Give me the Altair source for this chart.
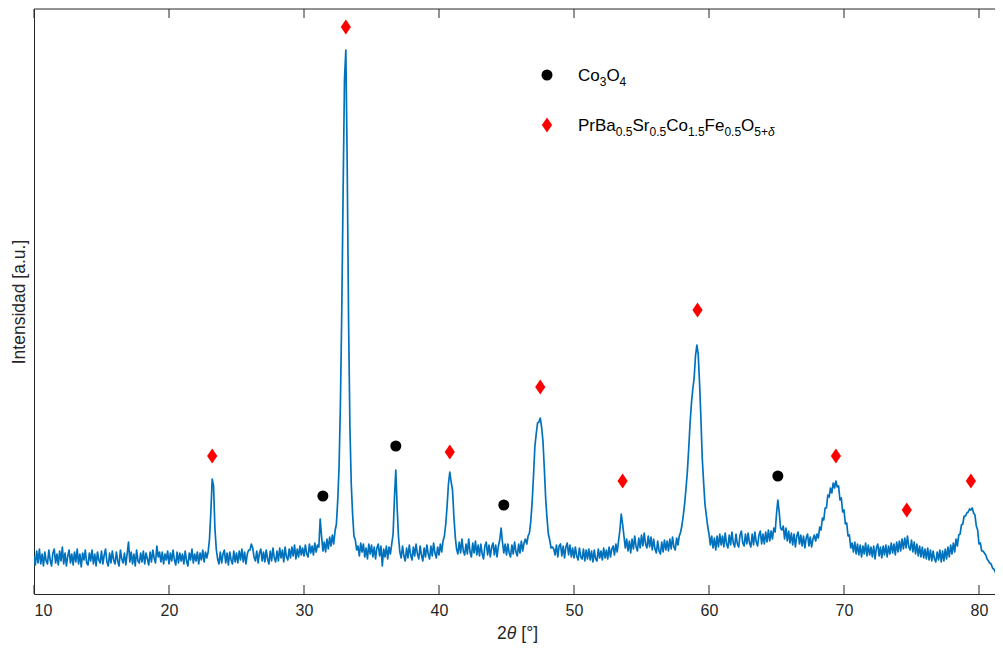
import altair as alt
import pandas as pd

# ---------------- data ----------------
# XRD scan: 2theta from 10.0 deg in steps of 0.1 deg, intensity in arbitrary units
scan_start = 10.0
scan_step = 0.1
intensity_rows = [
    [38, 29, 43, 31, 45, 30, 40, 28, 42, 33],   # 10
    [30, 44, 34, 28, 41, 45, 31, 40, 29, 43],   # 11
    [33, 47, 30, 41, 28, 38, 44, 31, 40, 29],   # 12
    [42, 32, 45, 30, 40, 27, 41, 34, 44, 31],   # 13
    [29, 41, 33, 44, 30, 40, 28, 42, 34, 31],   # 14
    [43, 30, 39, 45, 32, 28, 41, 31, 43, 34],   # 15
    [30, 42, 33, 28, 44, 35, 31, 41, 29, 40],   # 16
    [52, 32, 42, 30, 40, 28, 44, 33, 31, 41],   # 17
    [32, 43, 30, 41, 35, 29, 42, 32, 44, 36],   # 18
    [31, 48, 37, 42, 32, 42, 30, 40, 34, 43],   # 19
    [30, 41, 33, 44, 34, 29, 42, 31, 41, 33],   # 20
    [40, 30, 43, 33, 28, 41, 34, 45, 31, 40],   # 21
    [33, 42, 30, 41, 34, 44, 32, 42, 36, 42],   # 22
    [55, 82, 115, 108, 66, 45, 35, 30, 42, 31],  # 23
    [40, 44, 31, 41, 29, 42, 34, 30, 43, 32],   # 24
    [41, 31, 43, 34, 45, 32, 42, 30, 40, 44],   # 25
    [44, 50, 46, 37, 33, 43, 31, 41, 45, 33],   # 26
    [42, 32, 44, 35, 30, 43, 33, 46, 36, 32],   # 27
    [43, 33, 46, 36, 44, 32, 47, 37, 34, 45],   # 28
    [36, 47, 38, 49, 35, 45, 37, 48, 39, 46],   # 29
    [38, 49, 40, 37, 50, 41, 48, 39, 51, 42],   # 30
    [49, 47, 75, 58, 43, 52, 42, 55, 45, 57],   # 31
    [48, 59, 50, 63, 70, 94, 128, 192, 285, 405],  # 32
    [515, 544, 430, 275, 168, 110, 80, 58, 54, 44],  # 33
    [48, 38, 51, 42, 50, 37, 46, 35, 50, 40],   # 34
    [49, 37, 47, 35, 46, 50, 38, 48, 28, 45],   # 35
    [37, 48, 35, 47, 40, 50, 60, 96, 124, 86],  # 36
    [57, 42, 36, 48, 38, 33, 46, 36, 49, 39],   # 37
    [34, 47, 38, 50, 40, 35, 48, 39, 33, 46],   # 38
    [37, 49, 40, 35, 48, 38, 51, 41, 36, 47],   # 39
    [39, 50, 42, 53, 58, 70, 88, 110, 122, 112],  # 40
    [104, 78, 58, 45, 40, 52, 41, 55, 43, 39],  # 41
    [50, 40, 55, 42, 37, 51, 41, 53, 39, 49],   # 42
    [38, 50, 40, 35, 48, 52, 39, 49, 37, 47],   # 43
    [51, 39, 49, 37, 48, 54, 66, 52, 41, 50],   # 44
    [39, 50, 41, 37, 49, 40, 52, 42, 38, 50],   # 45
    [41, 53, 43, 51, 55, 50, 58, 61, 73, 92],   # 46
    [118, 147, 160, 171, 172, 176, 167, 153, 126, 96],  # 47
    [76, 60, 54, 46, 47, 45, 39, 49, 37, 48],   # 48
    [50, 38, 48, 36, 47, 51, 39, 49, 37, 46],   # 49
    [36, 47, 38, 34, 46, 37, 35, 45, 33, 44],   # 50
    [35, 45, 34, 43, 32, 44, 35, 33, 45, 36],   # 51
    [43, 34, 46, 36, 44, 35, 47, 37, 45, 48],   # 52
    [39, 50, 42, 53, 64, 80, 70, 58, 46, 55],   # 53
    [43, 53, 41, 55, 45, 58, 47, 43, 56, 46],   # 54
    [59, 48, 61, 50, 46, 58, 47, 57, 44, 55],   # 55
    [45, 41, 53, 43, 40, 52, 42, 54, 44, 53],   # 56
    [43, 55, 45, 57, 47, 44, 56, 49, 58, 62],   # 57
    [69, 79, 91, 106, 123, 146, 171, 191, 205, 216],  # 58
    [238, 249, 240, 211, 176, 136, 112, 90, 79, 68],  # 59
    [60, 49, 58, 46, 56, 44, 58, 47, 60, 49],   # 60
    [58, 47, 61, 50, 46, 59, 49, 62, 51, 47],   # 61
    [60, 50, 47, 59, 63, 51, 48, 60, 50, 61],   # 62
    [51, 47, 60, 49, 62, 52, 48, 59, 63, 50],   # 63
    [60, 50, 62, 52, 64, 53, 63, 55, 66, 62],   # 64
    [80, 94, 82, 66, 64, 68, 55, 66, 53, 63],   # 65
    [51, 61, 49, 60, 47, 58, 62, 50, 59, 48],   # 66
    [58, 46, 56, 60, 48, 57, 47, 55, 59, 53],   # 67
    [60, 56, 67, 64, 76, 74, 86, 86, 99, 97],   # 68
    [106, 101, 111, 106, 113, 107, 108, 94, 96, 82],  # 69
    [84, 70, 71, 58, 59, 46, 51, 42, 52, 40],   # 70
    [50, 39, 49, 37, 48, 40, 51, 38, 49, 39],   # 71
    [47, 37, 48, 35, 46, 50, 38, 47, 36, 48],   # 72
    [39, 49, 37, 48, 40, 51, 41, 50, 39, 52],   # 73
    [42, 53, 43, 55, 45, 56, 46, 58, 47, 44],   # 74
    [54, 42, 52, 40, 50, 38, 48, 37, 47, 36],   # 75
    [45, 35, 46, 34, 44, 33, 43, 35, 32, 42],   # 76
    [34, 44, 32, 43, 33, 45, 35, 47, 37, 49],   # 77
    [40, 51, 42, 55, 48, 59, 60, 69, 70, 78],   # 78
    [78, 81, 82, 85, 84, 86, 81, 79, 68, 64],   # 79
    [50, 51, 43, 43, 41, 39, 35, 33, 31, 30],   # 80
    [26, 25, 22, 21, 18, 17, 13, 15],           # 81
]

# phase markers
perovskite_2theta = [23.2, 33.1, 40.8, 47.5, 53.6, 59.15, 69.4, 74.65, 79.4]
perovskite_level = [138, 567, 142, 207, 113, 284, 138, 84, 113]
co3o4_2theta = [31.4, 36.8, 44.8, 65.1]
co3o4_level = [98, 148, 89, 118]

x_ticks = [10, 20, 30, 40, 50, 60, 70, 80]

# ---------------- tables ----------------
intensity = [v for row in intensity_rows for v in row]
two_theta = [round(scan_start + i * scan_step, 2) for i in range(len(intensity))]
scan = pd.DataFrame({"two_theta": two_theta, "intensity": intensity})
perov = pd.DataFrame({"two_theta": perovskite_2theta, "intensity": perovskite_level})
co = pd.DataFrame({"two_theta": co3o4_2theta, "intensity": co3o4_level})
ticks = pd.DataFrame({"two_theta": x_ticks})

W, H = 961, 585
FONT = "Liberation Sans"
INK = "#262626"
BLUE = "#0072BD"
DIAMOND = "M0,-1L0.68,0L0,1L-0.68,0Z"

xs = alt.Scale(domain=[10, 10 + W / 13.5], nice=False, zero=False)
ys = alt.Scale(domain=[0, 585], nice=False, zero=True)

X = alt.X("two_theta:Q", scale=xs,
          axis=alt.Axis(values=x_ticks, title="", ticks=False, grid=False,
                        labelPadding=8))
Y = alt.Y("intensity:Q", scale=ys,
          axis=alt.Axis(ticks=False, labels=False, grid=False,
                        title="Intensidad [a.u.]", titlePadding=6))

line = alt.Chart(scan).mark_line(color=BLUE, strokeWidth=1.7, clip=True,
                                 strokeJoin="round").encode(x=X, y=Y)

perov_pts = alt.Chart(perov).mark_point(shape=DIAMOND, size=225, filled=True,
                                         color="#FF0000", opacity=1).encode(
    x="two_theta:Q", y="intensity:Q")
co_pts = alt.Chart(co).mark_point(shape="circle", size=121, filled=True,
                                   color="#000000", opacity=1).encode(
    x="two_theta:Q", y="intensity:Q")

bottom_ticks = alt.Chart(ticks).mark_rule(color=INK, strokeWidth=1).encode(
    x="two_theta:Q", y=alt.value(H), y2=alt.value(H - 9))
top_ticks = alt.Chart(ticks).mark_rule(color=INK, strokeWidth=1).encode(
    x="two_theta:Q", y=alt.value(0), y2=alt.value(9))
top_border = alt.Chart(pd.DataFrame({"a": [0]})).mark_rule(color=INK, strokeWidth=1).encode(
    x=alt.value(0), x2=alt.value(W), y=alt.value(0))

# ---------------- rich text (subscripts / italics) ----------------
ARIAL_W = {'P': .667, 'r': .333, 'B': .667, 'a': .556, 'S': .667, 'C': .722, 'o': .556,
           'F': .611, 'e': .556, 'O': .778, '0': .556, '1': .556, '2': .556, '3': .556,
           '4': .556, '5': .556, '.': .278, '+': .584, 'δ': .55, 'θ': .556, ' ': .278,
           '[': .278, ']': .278, '°': .4}
MAIN, SUB, DROP = 17, 12, 5.5


def text_layers(parts, x0, base_y, main=MAIN, color="#000000"):
    layers = []
    x = x0
    dummy = pd.DataFrame({"a": [0]})
    for txt, sub, italic in parts:
        size = SUB if sub else main
        lead = len(txt) - len(txt.lstrip(" "))
        x += lead * ARIAL_W[' '] * size
        body = txt.strip(" ")
        kw = dict(align="left", baseline="alphabetic", font=FONT, fontSize=size,
                  color=color, text=body)
        if italic:
            kw["fontStyle"] = "italic"
        layers.append(alt.Chart(dummy).mark_text(**kw).encode(
            x=alt.value(x), y=alt.value(base_y + (DROP if sub else 0))))
        x += sum(ARIAL_W.get(c, .556) for c in body) * size
    return layers


legend_x, legend_text_x = 513, 544
row1, row2 = 66, 116
leg = []
leg.append(alt.Chart(pd.DataFrame({"a": [0]})).mark_point(
    shape="circle", size=121, filled=True, color="#000000", opacity=1).encode(
    x=alt.value(legend_x), y=alt.value(row1)))
leg.append(alt.Chart(pd.DataFrame({"a": [0]})).mark_point(
    shape=DIAMOND, size=225, filled=True, color="#FF0000", opacity=1).encode(
    x=alt.value(legend_x), y=alt.value(row2)))
leg += text_layers([("Co", False, False), ("3", True, False), ("O", False, False),
                    ("4", True, False)], legend_text_x, row1 + 5.7)
leg += text_layers([("PrBa", False, False), ("0.5", True, False), ("Sr", False, False),
                    ("0.5", True, False), ("Co", False, False), ("1.5", True, False),
                    ("Fe", False, False), ("0.5", True, False), ("O", False, False),
                    ("5+", True, False), ("δ", True, True)], legend_text_x, row2 + 5.7)

# x-axis title "2θ [°]" with italic theta
xtitle = text_layers([("2", False, False), ("θ", False, True), (" [°]", False, False)],
                     463, 630, main=17.5, color=INK)

chart = alt.layer(line, bottom_ticks, top_ticks, top_border, co_pts, perov_pts,
                  *leg, *xtitle).properties(
    width=W, height=H,
    padding={"left": 26, "top": 1, "right": 0, "bottom": 49},
    autosize=alt.AutoSizeParams(type="none"),
).configure_view(strokeWidth=0).configure_axis(
    domainColor=INK, domainWidth=1, labelColor=INK, labelFont=FONT, labelFontSize=16,
    titleColor=INK, titleFont=FONT, titleFontSize=17.5, titleFontWeight="normal",
)

chart.save("out.html", embed_options={"renderer": "svg", "actions": False})
